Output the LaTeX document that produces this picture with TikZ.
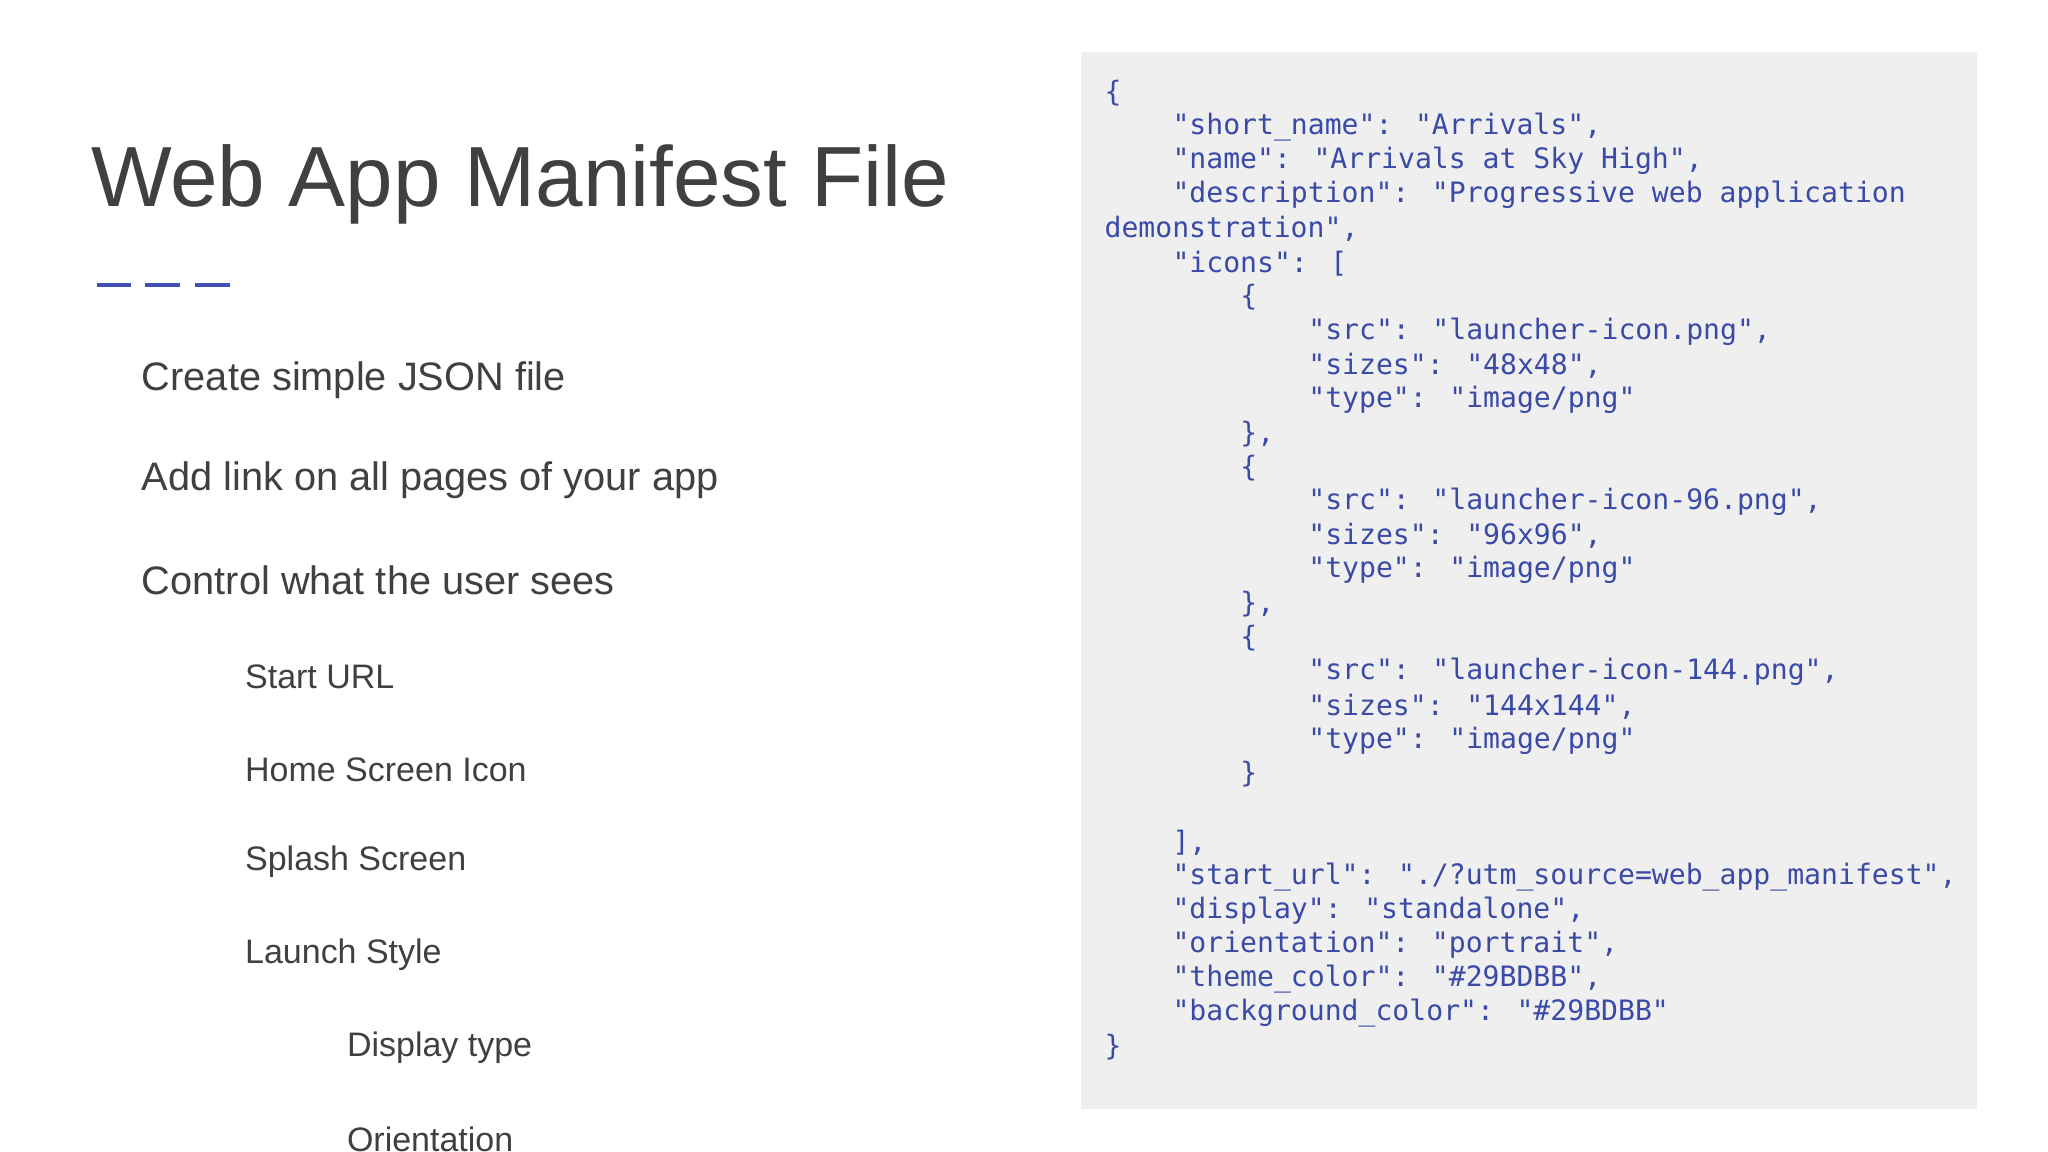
\documentclass[tikz,border=0pt]{standalone}
\usepackage{fontspec}
\setmainfont{Liberation Sans}
\newfontfamily\codefont{DejaVu Sans Mono}
\definecolor{codeblue}{HTML}{3A4AA6}
\definecolor{codebg}{HTML}{EFEFF0}
\definecolor{titlegray}{HTML}{404040}
\definecolor{dashblue}{HTML}{3F51B5}
\begin{document}
\begin{tikzpicture}[x=0.01cm,y=-0.01cm,
  codeline/.style={anchor=west,inner sep=0pt,font=\codefont\fontsize{6.12pt}{7pt}\selectfont,text=codeblue},
  lvlone/.style={anchor=west,inner sep=0pt,font=\fontsize{8.65pt}{10pt}\selectfont,text=titlegray},
  lvltwo/.style={anchor=west,inner sep=0pt,font=\fontsize{7.4pt}{9pt}\selectfont,text=titlegray},
  dashbar/.style={draw=dashblue,line width=0.9pt}]
\useasboundingbox (0,0) rectangle (1568,882);
\fill[codebg] (828,40) rectangle (1514,849);
\node[anchor=west,inner sep=0pt,font=\fontsize{18.6pt}{22pt}\selectfont,text=titlegray] (title) at (69,141) {Web App Manifest File};
\coordinate (d1a) at (74,218); \coordinate (d1b) at (100,218);
\coordinate (d2a) at (111,218); \coordinate (d2b) at (138,218);
\coordinate (d3a) at (149,218); \coordinate (d3b) at (176,218);
\draw[dashbar] (d1a) -- (d1b); \draw[dashbar] (d2a) -- (d2b); \draw[dashbar] (d3a) -- (d3b);
\node[lvlone] (b1) at (108,291) {Create simple JSON file};
\node[lvlone] (b2) at (108,368) {Add link on all pages of your app};
\node[lvlone] (b3) at (108,444) {Control what the user sees};
\node[lvltwo] (s1) at (187,518) {Start URL};
\node[lvltwo] (s2) at (187,589) {Home Screen Icon};
\node[lvltwo] (s3) at (187,660) {Splash Screen};
\node[lvltwo] (s4) at (187,731) {Launch Style};
\node[lvltwo] (t1) at (265,802) {Display type};
\node[lvltwo] (t2) at (265,872) {Orientation};
\foreach \i/\ind/\txt in {
 1/0/{\{},
 2/4/{"short\_name": "Arrivals",},
 3/4/{"name": "Arrivals at Sky High",},
 4/4/{"description": "Progressive web application},
 5/0/{demonstration",},
 6/4/{"icons": [},
 7/8/{\{},
 8/12/{"src": "launcher-icon.png",},
 9/12/{"sizes": "48x48",},
 10/12/{"type": "image/png"},
 11/8/{\},},
 12/8/{\{},
 13/12/{"src": "launcher-icon-96.png",},
 14/12/{"sizes": "96x96",},
 15/12/{"type": "image/png"},
 16/8/{\},},
 17/8/{\{},
 18/12/{"src": "launcher-icon-144.png",},
 19/12/{"sizes": "144x144",},
 20/12/{"type": "image/png"},
 21/8/{\}},
 23/4/{],},
 24/4/{"start\_url": "./?utm\_source=web\_app\_manifest",},
 25/4/{"display": "standalone",},
 26/4/{"orientation": "portrait",},
 27/4/{"theme\_color": "\#29BDBB",},
 28/4/{"background\_color": "\#29BDBB"},
 29/0/{\}}}
 \node[codeline] (c\i) at ({845+13*\ind},{71+26.1*(\i-1)}) {\txt};
\end{tikzpicture}
\end{document}
